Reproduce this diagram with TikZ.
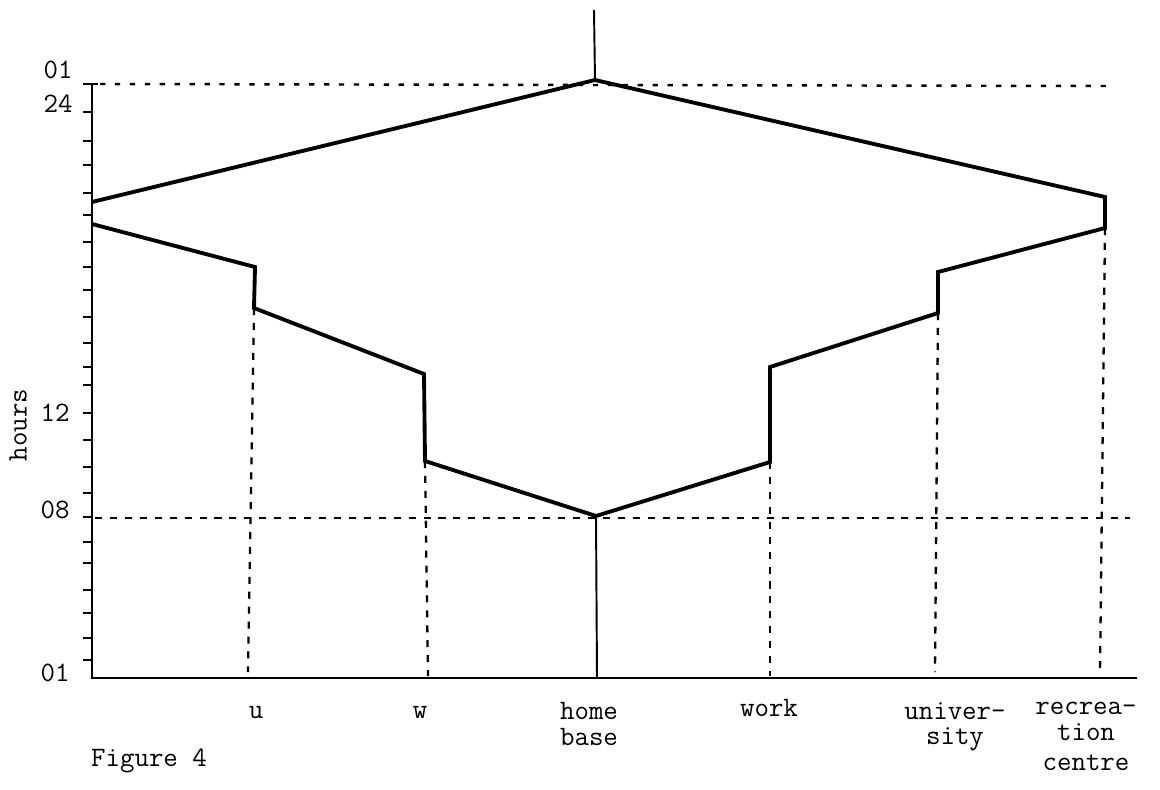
\documentclass[tikz,border=0pt]{standalone}
\begin{document}
\begin{tikzpicture}[x=0.02cm,y=-0.02cm,
  heavy/.style={line width=2.2pt,line join=miter},
  axis/.style={line width=1.6pt},
  thin/.style={line width=1.1pt},
  tick/.style={line width=1.3pt},
  guide/.style={line width=1.3pt,dash pattern=on 4pt off 4.5pt},
  dotline/.style={line width=1.4pt,dash pattern=on 3pt off 5.5pt},
  lab/.style={font=\fontsize{16}{14.5}\selectfont\ttfamily,inner sep=0pt,align=center},
  ylab/.style={font=\fontsize{16}{14.5}\selectfont\ttfamily,inner sep=0pt,anchor=east}]
\useasboundingbox (0,0) rectangle (1160,789);
% coordinates
\coordinate (O) at (92,678);
\coordinate (Ytop) at (92,84);
\coordinate (Xend) at (1137,678);
\coordinate (L1) at (92,202);
\coordinate (A) at (595,80);
\coordinate (Atop) at (594,10);
\coordinate (R1) at (1105,197);
\coordinate (R2) at (1105,228);
\coordinate (V1) at (938,272);
\coordinate (V2) at (938,313);
\coordinate (K1) at (770,367);
\coordinate (K2) at (770,462);
\coordinate (H) at (596,516);
\coordinate (Hb) at (597,678);
\coordinate (W2) at (425,461);
\coordinate (W1) at (424,374);
\coordinate (U1) at (255,267);
\coordinate (U2) at (254,308);
\coordinate (L2) at (92,224);
\coordinate (uB) at (248,672);
\coordinate (wB) at (428,676);
\coordinate (kB) at (770,676);
\coordinate (vB) at (935,672);
\coordinate (rB) at (1100,674);
\coordinate (D1) at (100,84);
\coordinate (D2) at (1112,86);
\coordinate (E1) at (95,518);
\coordinate (E2) at (1130,518);
% guides
\draw[dotline] (D1) -- (D2);
\draw[guide] (E1) -- (E2);
\draw[guide] (U2) -- (uB);
\draw[guide] (W2) -- (wB);
\draw[guide] (K2) -- (kB);
\draw[guide] (V2) -- (vB);
\draw[guide] (R2) -- (rB);
% axes
\draw[axis] (Ytop) -- (O) -- (Xend);
\draw[tick] (83,84) -- (98,84);
\foreach \t in {112,141,165,193,215,242,267,290,317,343,367,385,413,440,467,493,517,542,563,590,613,638,660}
  \draw[tick] (83,\t) -- (92,\t);
% profile
\draw[heavy] (L1) -- (A) -- (R1) -- (R2) -- (V1) -- (V2) -- (K1) -- (K2) -- (H) -- (W2) -- (W1) -- (U2) -- (U1) -- (L2);
\draw[thin] (Atop) -- (A);
\draw[thin] (H) -- (Hb);
% y labels
\node[ylab] (y01t) at (73,70) {01};
\node[ylab] (y24) at (73,104) {24};
\node[ylab] (y12) at (70,413) {12};
\node[ylab] (y08) at (70,510) {08};
\node[ylab] (y01b) at (70,673) {01};
\node[lab,rotate=90] (hrs) at (18,425) {hours};
% x labels
\node[lab,anchor=base] (lu) at (256,718) {u};
\node[lab,anchor=base] (lw) at (420,718) {w};
\node[lab,anchor=north] (lh) at (589,702) {home\\base};
\node[lab,anchor=base] (lk) at (769,716) {work};
\node[lab,anchor=north] (lv) at (955,702) {univer-\\sity};
\node[lab,anchor=north] (lr) at (1086,702) {recrea-\\tion\\[3pt]centre};
\node[lab,anchor=base] (fig) at (149,766) {Figure 4};
\end{tikzpicture}
\end{document}
